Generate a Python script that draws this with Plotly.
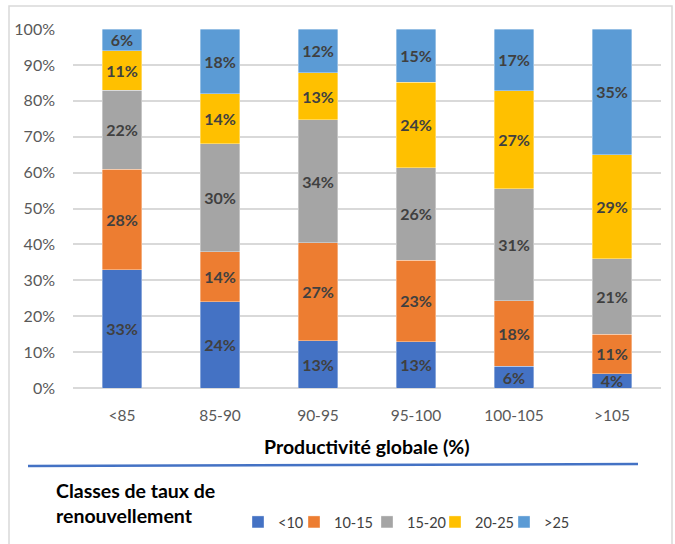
import plotly.graph_objects as go

categories = ["<85", "85-90", "90-95", "95-100", "100-105", ">105"]
series_names = ["<10", "10-15", "15-20", "20-25", ">25"]
v_lt10 = [33, 24, 13, 13, 6, 4]
v_10_15 = [28, 14, 27, 23, 18, 11]
v_15_20 = [22, 30, 34, 26, 31, 21]
v_20_25 = [11, 14, 13, 24, 27, 29]
v_gt25 = [6, 18, 12, 15, 17, 35]
series_values = [v_lt10, v_10_15, v_15_20, v_20_25, v_gt25]
colors = ["#4472C4", "#ED7D31", "#A5A5A5", "#FFC000", "#5B9BD5"]

FONT = "Lato"
W, H = 675, 544
L, R, T, B = 73, 14, 29, 156
pw, ph = W - L - R, H - T - B


def px(x):
    return (x - L) / pw


def py(y):
    return (H - B - y) / ph


legend_ids = ["legend", "legend2", "legend3", "legend4", "legend5"]
legend_left_px = [238, 294, 367, 435, 504]

fig = go.Figure()
for name, vals, col, lid in zip(series_names, series_values, colors, legend_ids):
    fig.add_trace(go.Bar(
        x=categories, y=vals, name=name, legend=lid,
        marker=dict(color=col, line=dict(color="rgba(255,255,255,0.6)", width=0.6)),
        text=[f"{v}%" for v in vals],
        texttemplate="%{text}",
        textposition="inside",
        insidetextanchor="middle",
        textangle=0,
        constraintext="none",
        textfont=dict(family=FONT, size=16, color="#404040", weight="bold"),
        hoverinfo="skip",
    ))

legend_layout = {}
for lid, lx in zip(legend_ids, legend_left_px):
    legend_layout[lid] = dict(
        orientation="h", xref="container", yref="container",
        x=lx / W, y=(H - 522) / H, xanchor="left", yanchor="middle",
        font=dict(family=FONT, size=14.5, color="#404040"),
        itemwidth=30, bgcolor="rgba(0,0,0,0)",
    )

fig.update_layout(
    width=W, height=H,
    margin=dict(l=L, r=R, t=T, b=B, autoexpand=False),
    barmode="stack", barnorm="percent",
    bargap=0.592,
    plot_bgcolor="white", paper_bgcolor="white",
    font=dict(family=FONT, color="#595959"),
    uniformtext=dict(minsize=16, mode="show"),
    showlegend=True,
    xaxis=dict(
        tickfont=dict(family=FONT, size=15.5, color="#595959"),
        showgrid=False, ticks="", showline=False, ticklabelstandoff=16,
    ),
    yaxis=dict(
        range=[0, 100], dtick=10, ticksuffix="%",
        tickfont=dict(family=FONT, size=16, color="#595959"),
        showgrid=True, gridcolor="#D9D9D9", gridwidth=1.5,
        zeroline=True, zerolinecolor="#D9D9D9", zerolinewidth=1.5,
        ticks="", ticklabelstandoff=17,
    ),
    shapes=[
        dict(type="rect", xref="paper", yref="paper",
             x0=px(9), x1=px(672), y0=py(560), y1=py(6),
             line=dict(color="#D9D9D9", width=1.5), layer="below"),
        dict(type="line", xref="paper", yref="paper",
             x0=px(28), y0=py(466), x1=px(638), y1=py(464),
             line=dict(color="#4472C4", width=2.5)),
    ],
    annotations=[
        dict(text="<b>Productivité globale (%)</b>", xref="paper", yref="paper",
             x=px(367), y=py(446), xanchor="center", yanchor="middle",
             showarrow=False, font=dict(family=FONT, size=19.5, color="#000000")),
        dict(text="<b>Classes de taux de</b>", xref="paper", yref="paper",
             x=px(54), y=py(490), xanchor="left", yanchor="middle",
             showarrow=False, font=dict(family=FONT, size=19.5, color="#000000")),
        dict(text="<b>renouvellement</b>", xref="paper", yref="paper",
             x=px(54), y=py(515), xanchor="left", yanchor="middle",
             showarrow=False, font=dict(family=FONT, size=19.5, color="#000000")),
    ],
    **legend_layout,
)

fig.write_html(
    "out.html",
    config={"displayModeBar": False},
    post_script="document.body.style.margin='0';document.body.style.padding='0';",
)
